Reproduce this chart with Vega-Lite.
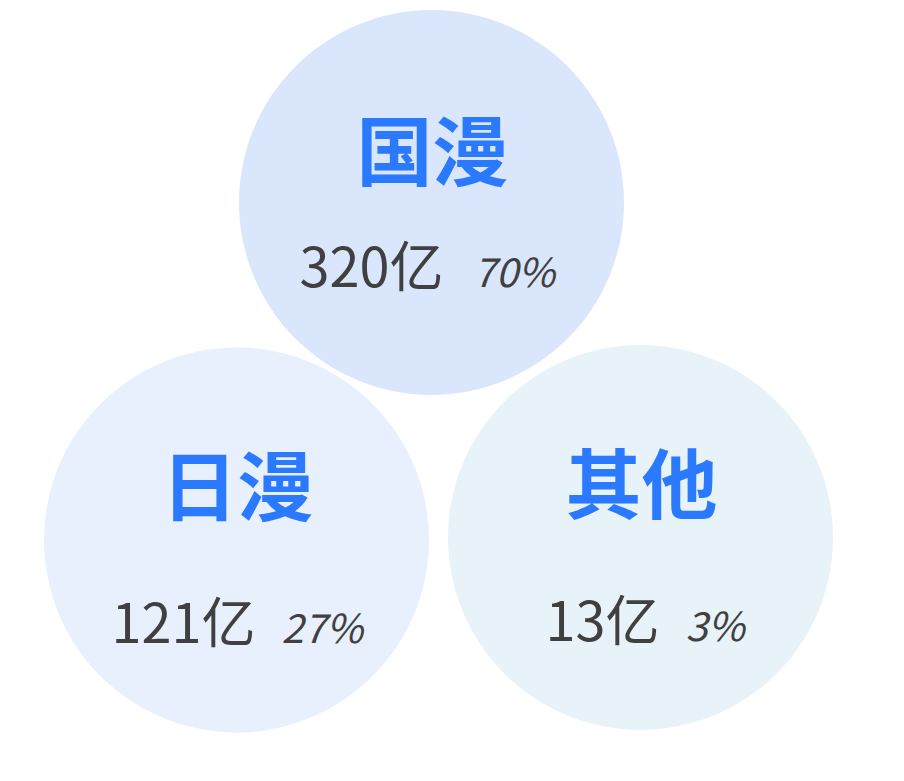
{
  "$schema": "https://vega.github.io/schema/vega-lite/v6.json",
  "width": 904,
  "height": 781,
  "autosize": "none",
  "padding": 0,
  "background": "#ffffff",
  "config": {"view": {"stroke": null}},
  "data": {
    "values": [
      {"name": "国漫", "amount": "320亿", "share": "70%"},
      {"name": "日漫", "amount": "121亿", "share": "27%"},
      {"name": "其他", "amount": "13亿", "share": "3%"}
    ]
  },
  "layer": [
    {
      "transform": [{"filter": "datum.name === '国漫'"}],
      "encoding": {
        "x": {"field": "name", "type": "nominal", "axis": null, "scale": {"domain": ["国漫"], "range": [431.5, 431.5], "padding": 0}},
        "y": {"field": "name", "type": "nominal", "axis": null, "scale": {"domain": ["国漫"], "range": [202.5, 202.5], "padding": 0}}
      },
      "layer": [
        {
          "mark": {"type": "circle", "size": 148225, "opacity": 1, "fill": "#dae6fc", "strokeWidth": 0}
        },
        {
          "mark": {"type": "text", "font": "Noto Sans CJK SC", "fontWeight": "bold", "fontSize": 76, "color": "#2b79ff", "align": "center", "baseline": "alphabetic", "dx": 1, "dy": -23},
          "encoding": {"text": {"field": "name"}}
        },
        {
          "mark": {"type": "text", "font": "Noto Sans CJK SC", "fontWeight": "normal", "fontSize": 54, "color": "#404040", "align": "right", "baseline": "alphabetic", "dx": 12, "dy": 84},
          "encoding": {"text": {"field": "amount"}}
        },
        {
          "mark": {"type": "text", "font": "Noto Sans CJK SC", "fontWeight": "normal", "fontStyle": "italic", "fontSize": 40, "color": "#404040", "align": "left", "baseline": "alphabetic", "dx": 42, "dy": 84},
          "encoding": {"text": {"field": "share"}}
        }
      ]
    },
    {
      "transform": [{"filter": "datum.name !== '国漫'"}],
      "encoding": {
        "x": {"field": "name", "type": "nominal", "axis": null, "scale": {"domain": ["日漫", "其他"], "range": [236.5, 640.5], "padding": 0}},
        "y": {"field": "name", "type": "nominal", "axis": null, "scale": {"domain": ["日漫", "其他"], "range": [540, 537.5], "padding": 0}}
      },
      "layer": [
        {
          "mark": {"type": "circle", "size": 148225, "opacity": 1, "strokeWidth": 0},
          "encoding": {
            "fill": {"field": "name", "type": "nominal", "legend": null, "scale": {"domain": ["日漫", "其他"], "range": ["#e8f0fd", "#e7f3f9"]}}
          }
        },
        {
          "mark": {"type": "text", "font": "Noto Sans CJK SC", "fontWeight": "bold", "fontSize": 76, "color": "#2b79ff", "align": "center", "baseline": "alphabetic", "dx": 1, "dy": -25},
          "encoding": {"text": {"field": "name"}}
        },
        {
          "mark": {"type": "text", "font": "Noto Sans CJK SC", "fontWeight": "normal", "fontSize": 54, "color": "#404040", "align": "right", "baseline": "alphabetic", "dx": 19, "dy": 103},
          "encoding": {"text": {"field": "amount"}}
        },
        {
          "mark": {"type": "text", "font": "Noto Sans CJK SC", "fontWeight": "normal", "fontStyle": "italic", "fontSize": 40, "color": "#404040", "align": "left", "baseline": "alphabetic", "dx": 45, "dy": 103},
          "encoding": {"text": {"field": "share"}}
        }
      ]
    }
  ],
  "resolve": {"scale": {"x": "independent", "y": "independent", "fill": "independent"}}
}
